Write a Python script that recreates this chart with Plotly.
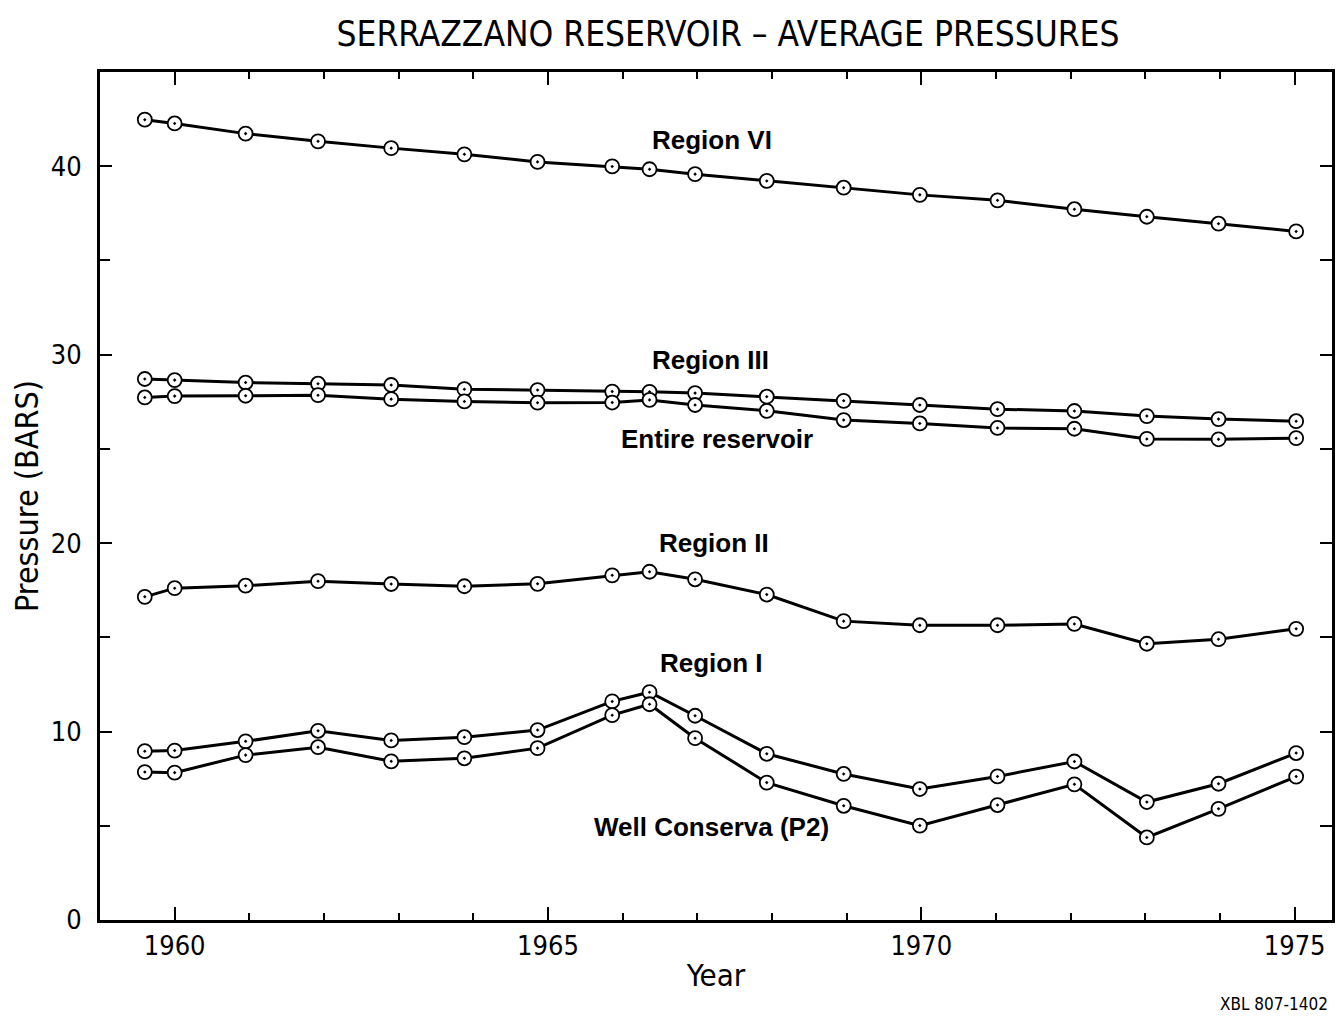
import plotly.graph_objects as go

# ---- data (tilt-corrected) ----
years = [1959.6, 1960.0, 1960.95, 1961.92, 1962.9, 1963.88, 1964.86, 1965.86, 1966.36,
         1966.97, 1967.93, 1968.96, 1969.98, 1971.02, 1972.05, 1973.02, 1973.98, 1975.02]

region_vi = [42.47, 42.27, 41.73, 41.32, 40.96, 40.63, 40.23, 39.99, 39.84,
             39.58, 39.22, 38.86, 38.48, 38.19, 37.72, 37.32, 36.95, 36.54]
region_iii = [28.71, 28.65, 28.52, 28.46, 28.39, 28.17, 28.12, 28.04, 28.03,
              27.96, 27.77, 27.55, 27.33, 27.11, 27.01, 26.74, 26.58, 26.47]
entire_reservoir = [27.73, 27.80, 27.82, 27.85, 27.64, 27.52, 27.45, 27.46, 27.60,
                    27.33, 27.02, 26.53, 26.35, 26.11, 26.07, 25.53, 25.51, 25.57]
region_ii = [17.15, 17.61, 17.74, 17.98, 17.83, 17.71, 17.84, 18.29, 18.48,
             18.08, 17.27, 15.86, 15.64, 15.64, 15.71, 14.66, 14.90, 15.45]
region_i = [8.96, 8.99, 9.48, 10.04, 9.53, 9.70, 10.08, 11.60, 12.09,
            10.84, 8.82, 7.75, 6.95, 7.62, 8.41, 6.26, 7.23, 8.86]
well_conserva = [7.85, 7.82, 8.75, 9.17, 8.42, 8.58, 9.12, 10.87, 11.45,
                 9.65, 7.29, 6.06, 5.01, 6.10, 7.20, 4.38, 5.90, 7.61]

series = [
    ("Region VI", region_vi),
    ("Region III", region_iii),
    ("Entire reservoir", entire_reservoir),
    ("Region II", region_ii),
    ("Region I", region_i),
    ("Well Conserva (P2)", well_conserva),
]

NARROW = "DejaVu Sans Condensed, Liberation Sans Narrow, sans-serif"
BOLD = "Liberation Sans, Arial, sans-serif"

X_RANGE = [1959, 1975.5]
Y_RANGE = [0, 45]

# the page body adds an 8 px offset, so the figure is 8 px smaller
W, H = 1336, 1010
ML, MR, MT, MB = 92, 12, 64, 98
PW, PH = W - ML - MR, H - MT - MB

fig = go.Figure()
for name, vals in series:
    fig.add_trace(go.Scatter(
        x=years, y=vals, name=name, mode="lines+markers",
        line=dict(color="black", width=3),
        marker=dict(symbol="circle-dot", size=14, color="white",
                    line=dict(color="black", width=1.8)),
        showlegend=False, cliponaxis=False,
    ))

labels = [
    ("Region VI", 1967.2, 41.4),
    ("Region III", 1967.17, 29.74),
    ("Entire reservoir", 1967.26, 25.54),
    ("Region II", 1967.22, 20.0),
    ("Region I", 1967.19, 13.66),
    ("Well Conserva (P2)", 1967.19, 4.92),
]
for text, lx, ly in labels:
    fig.add_annotation(x=lx, y=ly, text="<b>" + text + "</b>", showarrow=False,
                       font=dict(family=BOLD, size=26, color="black"),
                       xanchor="center", yanchor="middle")

fig.add_annotation(xref="paper", yref="paper",
                   x=(1322 - ML) / PW, y=-(996 - (H - MB)) / PH,
                   text="XBL 807-1402", showarrow=False,
                   xanchor="right", yanchor="middle",
                   font=dict(family=NARROW, size=17, color="black"))

fig.update_layout(
    width=W, height=H,
    margin=dict(l=ML, r=MR, t=MT, b=MB, autoexpand=False),
    paper_bgcolor="white", plot_bgcolor="white",
    title=dict(text="SERRAZZANO RESERVOIR – AVERAGE PRESSURES",
               x=720 / W, xanchor="center", xref="container",
               y=1 - 26 / H, yanchor="middle", yref="container",
               font=dict(family=NARROW, size=35, color="black")),
    font=dict(family=NARROW, color="black"),
)

fig.update_layout(
    xaxis=dict(
        range=X_RANGE, tick0=1960, dtick=5,
        ticks="inside", ticklen=13, tickwidth=2, tickcolor="black",
        minor=dict(dtick=1, ticks="inside", ticklen=7, tickwidth=1.5, tickcolor="black"),
        showline=True, linecolor="black", linewidth=3, mirror=True,
        showgrid=False, zeroline=False, automargin=False,
        tickfont=dict(family=NARROW, size=27, color="black"),
        ticklabelstandoff=0,
        title=dict(text="Year", font=dict(family=NARROW, size=31, color="black"), standoff=4),
    ),
    yaxis=dict(
        range=Y_RANGE, tick0=0, dtick=10,
        ticks="inside", ticklen=12, tickwidth=2, tickcolor="black",
        minor=dict(dtick=5, ticks="inside", ticklen=10, tickwidth=1.5, tickcolor="black"),
        showline=True, linecolor="black", linewidth=3, mirror=True,
        showgrid=False, zeroline=False, automargin=False,
        tickfont=dict(family=NARROW, size=27, color="black"),
        ticklabelstandoff=10,
        title=dict(text="Pressure (BARS)", font=dict(family=NARROW, size=32, color="black"), standoff=16),
    ),
    # mirrored tick marks on the top and right edges
    xaxis2=dict(
        range=X_RANGE, overlaying="x", side="top", tick0=1960, dtick=5,
        ticks="inside", ticklen=13, tickwidth=2, tickcolor="black",
        minor=dict(dtick=1, ticks="inside", ticklen=7, tickwidth=1.5, tickcolor="black"),
        showticklabels=False, showgrid=False, zeroline=False, showline=False,
        automargin=False,
    ),
    yaxis2=dict(
        range=Y_RANGE, overlaying="y", side="right", tick0=0, dtick=5,
        ticks="inside", ticklen=12, tickwidth=2, tickcolor="black",
        showticklabels=False, showgrid=False, zeroline=False, showline=False,
        automargin=False,
    ),
)
# invisible trace so the mirrored axes are drawn
fig.add_trace(go.Scatter(x=[X_RANGE[0]], y=[Y_RANGE[0]], xaxis="x2", yaxis="y2",
                         mode="markers", marker=dict(opacity=0), showlegend=False,
                         hoverinfo="skip"))

fig.write_html("out.html")
